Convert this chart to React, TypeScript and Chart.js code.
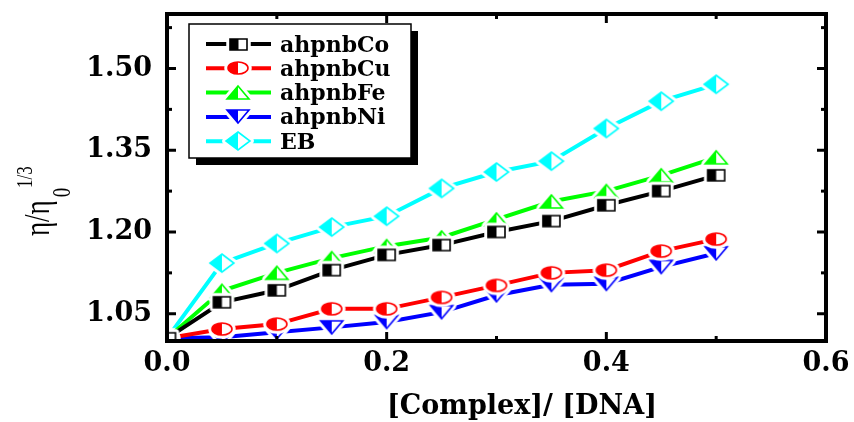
import React, { useEffect, useRef } from "react";
import { Chart, registerables } from "chart.js";

Chart.register(...registerables);

// ---------------- data ----------------
const xValues = [0, 0.05, 0.1, 0.15, 0.2, 0.25, 0.3, 0.35, 0.4, 0.45, 0.5];
const ahpnbCo = [1.005, 1.071, 1.093, 1.13, 1.158, 1.176, 1.2, 1.22, 1.249, 1.275, 1.304];
const ahpnbCu = [1.005, 1.022, 1.031, 1.059, 1.059, 1.08, 1.102, 1.125, 1.13, 1.165, 1.187];
const ahpnbFe = [1.005, 1.092, 1.125, 1.152, 1.174, 1.19, 1.223, 1.256, 1.275, 1.304, 1.337];
const ahpnbNi = [1.005, 1.007, 1.016, 1.025, 1.035, 1.053, 1.084, 1.103, 1.105, 1.136, 1.161];
const EB = [1.005, 1.143, 1.179, 1.209, 1.229, 1.28, 1.31, 1.33, 1.39, 1.44, 1.471];
const seriesNames = ["ahpnbCo", "ahpnbCu", "ahpnbFe", "ahpnbNi", "EB"];
const seriesValues = [ahpnbCo, ahpnbCu, ahpnbFe, ahpnbNi, EB];

const yMajorTicks = [1.05, 1.2, 1.35, 1.5];
const yMinorTicks = [1.125, 1.275, 1.425, 1.575];
const xMajorTicks = [0, 0.2, 0.4, 0.6];
const xMinorTicks = [0.1, 0.3, 0.5];
const xTitle = "[Complex]/ [DNA]";
const yTitleMain = "η/η";
const yTitleSub = "0";
const yTitleSup = "1/3";

// ---------------- styles ----------------
const seriesStyles = [
  { color: "#000000", shape: "square", w: 17, h: 11 },
  { color: "#ff0000", shape: "circle", w: 20, h: 12 },
  { color: "#00ff00", shape: "triUp", w: 22, h: 13 },
  { color: "#0000ff", shape: "triDown", w: 22, h: 13 },
  { color: "#00ffff", shape: "diamond", w: 24, h: 18 },
];
const BOLD_FONT = "'DejaVu Serif', serif";
const TITLE_FONT = "'Liberation Serif', 'Times New Roman', serif";

function shapePath(ctx: CanvasRenderingContext2D, shape: string, cx: number, cy: number, w: number, h: number) {
  const a = w / 2;
  const b = h / 2;
  ctx.beginPath();
  if (shape === "square") {
    ctx.rect(cx - a, cy - b, w, h);
  } else if (shape === "circle") {
    ctx.ellipse(cx, cy, a, b, 0, 0, Math.PI * 2);
  } else if (shape === "triUp") {
    ctx.moveTo(cx, cy - b);
    ctx.lineTo(cx + a, cy + b);
    ctx.lineTo(cx - a, cy + b);
  } else if (shape === "triDown") {
    ctx.moveTo(cx - a, cy - b);
    ctx.lineTo(cx + a, cy - b);
    ctx.lineTo(cx, cy + b);
  } else {
    ctx.moveTo(cx, cy - b);
    ctx.lineTo(cx + a, cy);
    ctx.lineTo(cx, cy + b);
    ctx.lineTo(cx - a, cy);
  }
  ctx.closePath();
}

function makeMarker(style: { color: string; shape: string; w: number; h: number }) {
  const halo = 3;
  const pad = halo + 2;
  const c = document.createElement("canvas");
  c.width = style.w + 2 * pad;
  c.height = style.h + 2 * pad;
  const ctx = c.getContext("2d")!;
  const cx = c.width / 2;
  const cy = c.height / 2;
  shapePath(ctx, style.shape, cx, cy, style.w, style.h);
  ctx.lineJoin = "round";
  ctx.strokeStyle = "#ffffff";
  ctx.lineWidth = halo * 2 + 1.5;
  ctx.stroke();
  ctx.fillStyle = "#ffffff";
  ctx.fill();
  ctx.save();
  ctx.beginPath();
  ctx.rect(0, 0, cx, c.height);
  ctx.clip();
  shapePath(ctx, style.shape, cx, cy, style.w, style.h);
  ctx.fillStyle = style.color;
  ctx.fill();
  ctx.restore();
  shapePath(ctx, style.shape, cx, cy, style.w, style.h);
  ctx.lineJoin = "miter";
  ctx.strokeStyle = style.color;
  ctx.lineWidth = 1.6;
  ctx.stroke();
  return c;
}

export default function App() {
  const ref = useRef<HTMLCanvasElement>(null);

  useEffect(() => {
    const canvas = ref.current;
    if (!canvas) return;
    const markers = seriesStyles.map(makeMarker);

    const framePlugin = {
      id: "frameTicks",
      afterDatasetsDraw(chart: any) {
        const { ctx, chartArea: a, scales } = chart;
        const xs = scales.x;
        const ys = scales.y;
        ctx.save();
        ctx.strokeStyle = "#000";
        ctx.lineCap = "butt";
        ctx.lineWidth = 3;
        const seg = (x1: number, y1: number, x2: number, y2: number) => {
          ctx.beginPath();
          ctx.moveTo(x1, y1);
          ctx.lineTo(x2, y2);
          ctx.stroke();
        };
        yMajorTicks.forEach((v) => {
          const p = ys.getPixelForValue(v);
          seg(a.left, p, a.left + 9, p);
          seg(a.right, p, a.right - 9, p);
        });
        yMinorTicks.forEach((v) => {
          const p = ys.getPixelForValue(v);
          seg(a.left, p, a.left + 5, p);
          seg(a.right, p, a.right - 5, p);
        });
        xMajorTicks.forEach((v) => {
          const p = xs.getPixelForValue(v);
          seg(p, a.bottom, p, a.bottom - 9);
          seg(p, a.top, p, a.top + 9);
        });
        xMinorTicks.forEach((v) => {
          const p = xs.getPixelForValue(v);
          seg(p, a.bottom, p, a.bottom - 5);
          seg(p, a.top, p, a.top + 5);
        });
        ctx.lineWidth = 4;
        ctx.strokeRect(a.left, a.top, a.right - a.left, a.bottom - a.top);
        ctx.restore();
      },
    };

    const annotPlugin = {
      id: "legendTitles",
      afterDraw(chart: any) {
        const { ctx, chartArea: a } = chart;
        ctx.save();
        // legend box
        const bx = a.left + 22;
        const by = a.top + 10;
        const bw = 222;
        const bh = 134;
        ctx.fillStyle = "#000";
        ctx.fillRect(bx + 7, by + 7, bw, bh);
        ctx.fillStyle = "#fff";
        ctx.fillRect(bx, by, bw, bh);
        ctx.strokeStyle = "#000";
        ctx.lineWidth = 1.5;
        ctx.strokeRect(bx, by, bw, bh);
        seriesNames.forEach((name, i) => {
          const ry = by + 20 + i * 24.3;
          ctx.strokeStyle = seriesStyles[i].color;
          ctx.lineWidth = 4;
          ctx.beginPath();
          ctx.moveTo(bx + 17, ry);
          ctx.lineTo(bx + 82, ry);
          ctx.stroke();
          const m = markers[i];
          ctx.drawImage(m, Math.round(bx + 49 - m.width / 2), Math.round(ry - m.height / 2));
          ctx.fillStyle = "#000";
          ctx.font = "bold 22px " + BOLD_FONT;
          ctx.textAlign = "left";
          ctx.textBaseline = "alphabetic";
          ctx.fillText(name, bx + 91, ry + 7.5);
        });
        // x title
        ctx.fillStyle = "#000";
        ctx.font = "bold 27px " + BOLD_FONT;
        ctx.textAlign = "center";
        ctx.textBaseline = "alphabetic";
        ctx.fillText(xTitle, a.left + 355, 414);
        // y title (rotated, with sub/superscript)
        ctx.translate(a.left - 118, a.top + 222);
        ctx.scale(1.3, 1);
        ctx.rotate(-Math.PI / 2);
        ctx.textAlign = "left";
        ctx.font = "27px " + TITLE_FONT;
        ctx.fillText(yTitleMain, 0, 0);
        const mw = ctx.measureText(yTitleMain).width;
        ctx.font = "19px " + TITLE_FONT;
        ctx.fillText(yTitleSub, mw + 3, 16);
        ctx.font = "17px " + TITLE_FONT;
        ctx.fillText(yTitleSup, 48, -13);
        ctx.restore();
      },
    };

    const chart = new Chart(canvas, {
      type: "line",
      data: {
        datasets: seriesValues.map((vals, i) => ({
          label: seriesNames[i],
          data: xValues.map((x, j) => ({ x, y: vals[j] })),
          borderColor: seriesStyles[i].color,
          backgroundColor: seriesStyles[i].color,
          borderWidth: 4,
          pointStyle: markers[i] as any,
          pointRadius: 8,
          pointHoverRadius: 8,
          tension: 0,
          fill: false,
        })),
      },
      options: {
        responsive: false,
        animation: false,
        events: [],
        layout: { padding: { left: 0, right: 28, top: 14, bottom: 0 } },
        plugins: {
          legend: { display: false },
          tooltip: { enabled: false },
          title: { display: false },
        },
        scales: {
          x: {
            type: "linear",
            min: 0,
            max: 0.6,
            afterBuildTicks: (s: any) => {
              s.ticks = xMajorTicks.map((v) => ({ value: v }));
            },
            afterFit: (s: any) => {
              s.height = 81;
              s.paddingLeft = 0;
              s.paddingRight = 0;
            },
            ticks: {
              color: "#000",
              font: { family: BOLD_FONT, weight: "bold", size: 27 },
              padding: 7,
              maxRotation: 0,
              autoSkip: false,
              callback: (v: any) => Number(v).toFixed(1),
            },
            grid: { display: false, drawTicks: false },
            border: { display: false },
          },
          y: {
            type: "linear",
            min: 1.0,
            max: 1.6,
            afterBuildTicks: (s: any) => {
              s.ticks = yMajorTicks.map((v) => ({ value: v }));
            },
            afterFit: (s: any) => {
              s.width = 167;
              s.paddingTop = 0;
              s.paddingBottom = 0;
            },
            ticks: {
              color: "#000",
              font: { family: BOLD_FONT, weight: "bold", size: 27 },
              padding: 15,
              autoSkip: false,
              callback: (v: any) => Number(v).toFixed(2),
            },
            grid: { display: false, drawTicks: false },
            border: { display: false },
          },
        },
      } as any,
      plugins: [framePlugin, annotPlugin],
    });
    return () => chart.destroy();
  }, []);

  return (
    <div style={{ position: "absolute", left: 0, top: 0, width: 854, height: 422, background: "#fff" }}>
      <canvas ref={ref} width={854} height={422} style={{ display: "block", width: 854, height: 422 }} />
    </div>
  );
}
